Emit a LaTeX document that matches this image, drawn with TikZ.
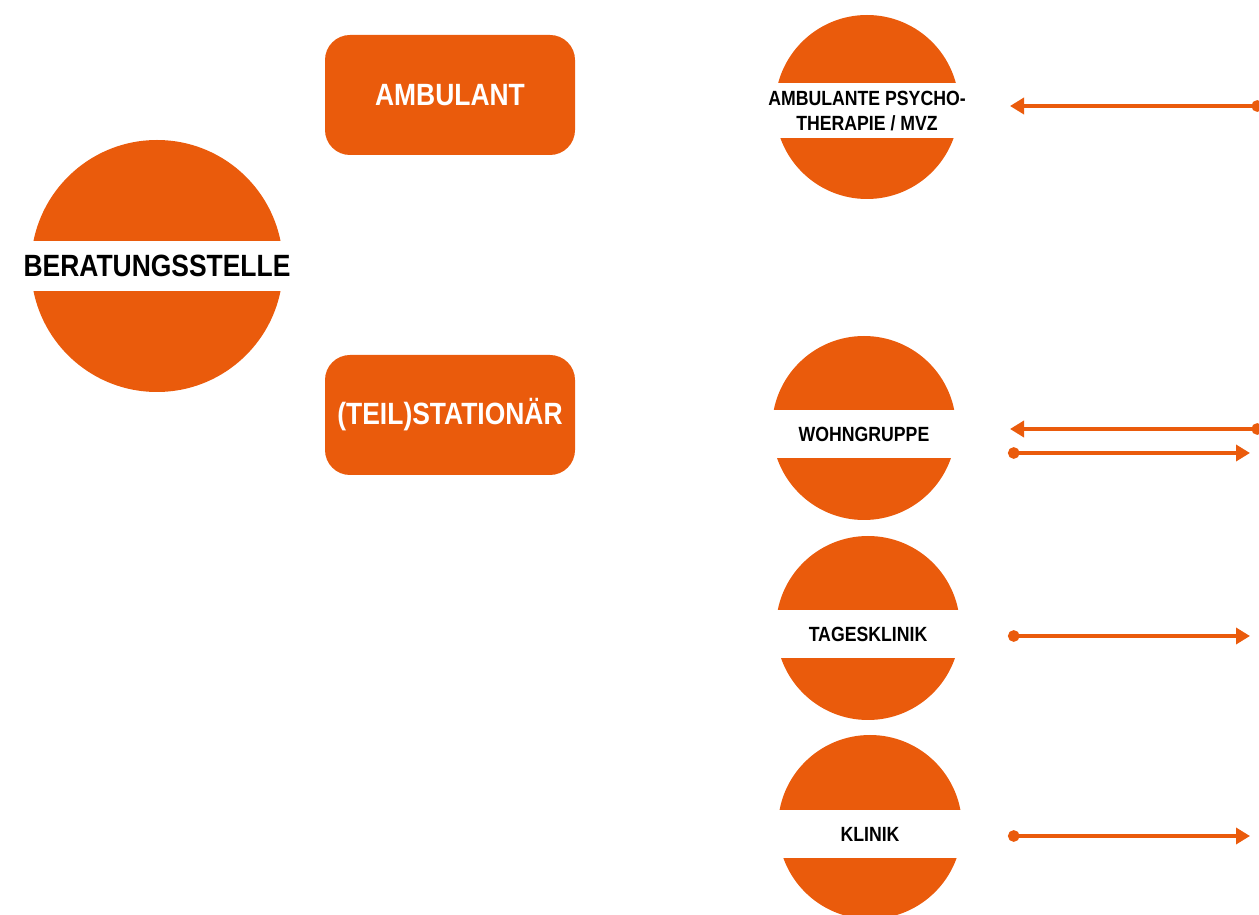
\documentclass[tikz,border=0pt]{standalone}
\usepackage{fontspec}
\setmainfont{Liberation Sans}[FakeStretch=0.86]
\usetikzlibrary{arrows.meta}
\definecolor{orangeb}{RGB}{234,91,12}
\newlength\unitpx
\setlength\unitpx{0.02cm}
\newcommand{\bigfont}{\bfseries\fontsize{17.5}{20}\selectfont}
\newcommand{\smallfont}{\bfseries\fontsize{11.7}{13.8}\selectfont}
\tikzset{
  ball/.style={circle,fill=orangeb,inner sep=0pt,minimum size=#1\unitpx},
  band/.style={fill=white,inner sep=0pt,minimum height=#1\unitpx,minimum width=190\unitpx,align=center,font=\smallfont},
  kind/.style={rounded corners=25\unitpx,fill=orangeb,inner sep=0pt,minimum width=250\unitpx,minimum height=120\unitpx,text=white,font=\bigfont},
  link/.style={orangeb,line width=3.5\unitpx,{Circle[length=0.23cm]}-{Triangle[length=0.28cm,width=0.32cm]}}
}

\begin{document}
\begin{tikzpicture}[x=\unitpx,y=-\unitpx]
\useasboundingbox (0,0) rectangle (1259,915);
\node[ball=252] (beratung) at (157,266) {};
\node[band=50,minimum width=256\unitpx,font=\bigfont] (beratungtxt) at (157,266) {BERATUNGSSTELLE};
\node[kind] (ambulant) at (450,95) {AMBULANT};
\node[kind] (stationaer) at (450,415) {(TEIL)STATIONÄR};
\node[ball=184] (psycho) at (867,107) {};
\node[band=55] (psychotxt) at (867,111) {AMBULANTE PSYCHO-\\THERAPIE / MVZ};
\node[ball=184] (wohn) at (864,428) {};
\node[band=48] (wohntxt) at (864,434) {WOHNGRUPPE};
\node[ball=184] (tages) at (868,628) {};
\node[band=48] (tagestxt) at (868,634) {TAGESKLINIK};
\node[ball=184] (klinik) at (870,827) {};
\node[band=48] (kliniktxt) at (870,834) {KLINIK};
\coordinate (psychoin) at (1263,106);
\coordinate (psychoend) at (1010,106);
\coordinate (wohnin) at (1263,429);
\coordinate (wohnend) at (1010,429);
\coordinate (wohnout) at (1008,453);
\coordinate (wohnto) at (1250,453);
\coordinate (tagesout) at (1008,636);
\coordinate (tagesto) at (1250,636);
\coordinate (klinikout) at (1008,836);
\coordinate (klinikto) at (1250,836);
\draw[link] (psychoin) -- (psychoend);
\draw[link] (wohnin) -- (wohnend);
\draw[link] (wohnout) -- (wohnto);
\draw[link] (tagesout) -- (tagesto);
\draw[link] (klinikout) -- (klinikto);
\end{tikzpicture}
\end{document}
